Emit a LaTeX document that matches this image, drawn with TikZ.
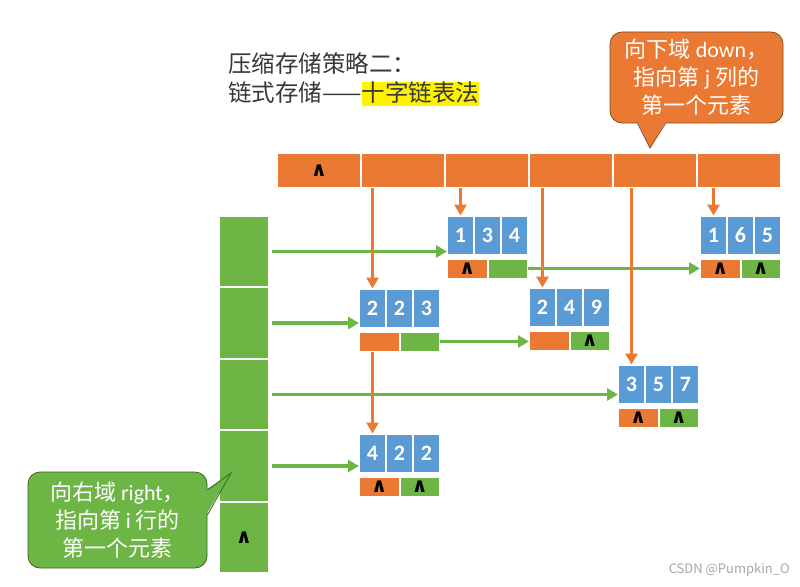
\documentclass[tikz,border=0pt]{standalone}
\usepackage{fontspec}
\setmainfont{Noto Sans CJK SC}
\newfontfamily\digitfont{Carlito}
\newfontfamily\wedgefont{DejaVu Sans}
\usepackage{xcolor}
\usetikzlibrary{positioning}
\usetikzlibrary{arrows.meta}
\definecolor{myorange}{HTML}{EA7A33}
\definecolor{myblue}{HTML}{5B9BD5}
\definecolor{mygreen}{HTML}{6DB545}

\begin{document}
\begin{tikzpicture} [x=1pt, y=-1pt,
            blu/.style={rectangle, draw=white, fill=myblue, line width=1pt, inner sep=0pt, minimum width=26pt, minimum height=38pt, text=white, font=\digitfont\bfseries\fontsize{22}{22}\selectfont},
            ora/.style={rectangle, draw=white, fill=myorange, line width=1pt, inner sep=0pt, minimum width=39.5pt, minimum height=19pt, text=black, font=\wedgefont\bfseries\fontsize{20}{20}\selectfont},
            gre/.style={rectangle, draw=white, fill=mygreen, line width=1pt, inner sep=0pt, minimum width=39.5pt, minimum height=19pt, text=black, font=\wedgefont\bfseries\fontsize{20}{20}\selectfont},
            titl/.style={inner sep=0pt, text=black!78, text height=19pt, text depth=5pt, font=\fontsize{23.5}{28}\selectfont},
            tipo/.style={rectangle, rounded corners=12pt, fill=myorange, draw=myorange!60!black, line width=0.8pt, text=white, align=center, font=\fontsize{22}{28}\selectfont},
            tipg/.style={rectangle, rounded corners=12pt, fill=mygreen, draw=mygreen!55!black, line width=0.8pt, text=white, align=center, font=\fontsize{22}{28}\selectfont},
            dn/.style={draw=myorange, line width=3.5pt, -{Triangle[length=11pt,width=12pt]}},
            rt/.style={draw=mygreen, line width=3.5pt, -{Triangle[length=11pt,width=12pt]}},]
        \useasboundingbox (0,0) rectangle (800,586);
        % title
        \node[titl, anchor=west](t1) at (228,65){压缩存储策略二：};
        \node[titl, anchor=west](t2) at (228,94){链式存储——};
        \node[titl, fill=yellow, right=0pt of t2](t3){十字链表法};
        % column heads
        \node[ora, minimum width=83pt, minimum height=34pt](h0) at (319,170.5){∧};
        \node[ora, minimum width=83pt, minimum height=34pt](h1)[right=0pt of h0]{};
        \node[ora, minimum width=83pt, minimum height=34pt](h2)[right=0pt of h1]{};
        \node[ora, minimum width=83pt, minimum height=34pt](h3)[right=0pt of h2]{};
        \node[ora, minimum width=83pt, minimum height=34pt](h4)[right=0pt of h3]{};
        \node[ora, minimum width=83pt, minimum height=34pt](h5)[right=0pt of h4]{};
        % row heads
        \node[gre, minimum width=49pt, minimum height=70.5pt](r1) at (244,251.5){};
        \node[gre, minimum width=49pt, minimum height=70.5pt](r2)[below=0pt of r1]{};
        \node[gre, minimum width=49pt, minimum height=70.5pt](r3)[below=0pt of r2]{};
        \node[gre, minimum width=49pt, minimum height=70.5pt](r4)[below=0pt of r3]{};
        \node[gre, minimum width=49pt, minimum height=70.5pt](r5)[below=0pt of r4]{∧};
        % 1 3 4
        \node[blu](a1) at (460.5,235){1};
        \node[blu](a2)[right=0pt of a1]{3};
        \node[blu](a3)[right=0pt of a2]{4};
        \node[ora](a4)[below right=4pt and 0pt of a1.south west]{∧};
        \node[gre](a5)[right=0pt of a4]{};
        % 1 6 5
        \node[blu](b1) at (713.5,235){1};
        \node[blu](b2)[right=0pt of b1]{6};
        \node[blu](b3)[right=0pt of b2]{5};
        \node[ora](b4)[below right=4pt and 0pt of b1.south west]{∧};
        \node[gre](b5)[right=0pt of b4]{∧};
        % 2 2 3
        \node[blu](c1) at (372.5,308){2};
        \node[blu](c2)[right=0pt of c1]{2};
        \node[blu](c3)[right=0pt of c2]{3};
        \node[ora](c4)[below right=4pt and 0pt of c1.south west]{};
        \node[gre](c5)[right=0pt of c4]{};
        % 2 4 9
        \node[blu](d1) at (542.5,307){2};
        \node[blu](d2)[right=0pt of d1]{4};
        \node[blu](d3)[right=0pt of d2]{9};
        \node[ora](d4)[below right=4pt and 0pt of d1.south west]{};
        \node[gre](d5)[right=0pt of d4]{∧};
        % 3 5 7
        \node[blu](e1) at (631.5,384){3};
        \node[blu](e2)[right=0pt of e1]{5};
        \node[blu](e3)[right=0pt of e2]{7};
        \node[ora](e4)[below right=4pt and 0pt of e1.south west]{∧};
        \node[gre](e5)[right=0pt of e4]{∧};
        % 4 2 2
        \node[blu](f1) at (372.5,453){4};
        \node[blu](f2)[right=0pt of f1]{2};
        \node[blu](f3)[right=0pt of f2]{2};
        \node[ora](f4)[below right=4pt and 0pt of f1.south west]{∧};
        \node[gre](f5)[right=0pt of f4]{∧};
        % right links
        \draw[rt] ([xshift=3pt]r1.east) -- (r1.east -| a1.west);
        \draw[rt] ([xshift=3pt]r2.east) -- (r2.east -| c1.west);
        \draw[rt] ([xshift=3pt]r3.east) -- (r3.east -| e1.west);
        \draw[rt] ([xshift=3pt]r4.east) -- (r4.east -| f1.west);
        \draw[rt] (a5.east) -- (a5.east -| b4.west);
        \draw[rt] (c5.east) -- (c5.east -| d4.west);
        % down links
        \draw[dn] (h1.south -| c1.north) -- (c1.north);
        \draw[dn] (h2.south -| a1.north) -- (a1.north);
        \draw[dn] (h3.south -| d1.north) -- (d1.north);
        \draw[dn] (h4.south -| e1.north) -- (e1.north);
        \draw[dn] (h5.south -| b1.north) -- (b1.north);
        \draw[dn] (c4.south -| f1.north) -- (f1.north);
        % callouts
        \node[tipo, minimum width=173pt, minimum height=91pt](cd) at (696.5,77.5){向下域 {\digitfont down}，\\指向第 {\digitfont j} 列的\\第一个元素};
        \coordinate (cdtip) at (650,148);
        \fill[myorange] ([xshift=-59pt,yshift=1.5pt]cd.south) -- (cdtip) -- ([xshift=-31pt,yshift=1.5pt]cd.south) -- cycle;
        \draw[myorange!60!black, line width=0.8pt] ([xshift=-59pt]cd.south) -- (cdtip) -- ([xshift=-31pt]cd.south);
        \node[tipg, minimum width=179pt, minimum height=96pt](cr) at (117.5,520){向右域 {\digitfont right}，\\指向第 {\digitfont i} 行的\\第一个元素};
        \coordinate (crtip) at (231,473);
        \fill[mygreen] ([xshift=-1.5pt,yshift=30pt]cr.east) -- (crtip) -- ([xshift=-1.5pt,yshift=5pt]cr.east) -- cycle;
        \draw[mygreen!55!black, line width=0.8pt] ([yshift=30pt]cr.east) -- (crtip) -- ([yshift=5pt]cr.east);
        \node[anchor=east, inner sep=0pt, text=black!35, font=\fontsize{13}{13}\selectfont](wm) at (790,570){CSDN @Pumpkin\_O};
    \end{tikzpicture}
\end{document}
